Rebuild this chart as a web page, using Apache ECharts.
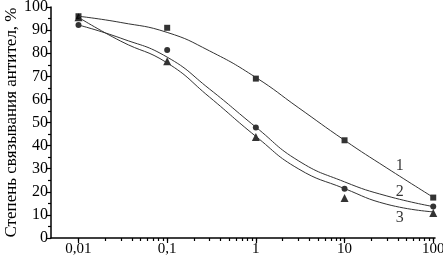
<!DOCTYPE html>
<html>
<head>
<meta charset="utf-8">
<script src="https://cdn.jsdelivr.net/npm/echarts@6/dist/echarts.min.js"></script>
<style>html,body{margin:0;padding:0;background:#fff}#c{width:443px;height:262px}</style>
</head>
<body>
<div id="c"></div>
<script>
// concentrations (x) of measured points
const concentrations = [0.01, 0.1, 1, 10, 100];
// measured points
const series1Values = [96, 91, 69, 42.3, 17.5];
const series2Values = [92.2, 81.4, 47.8, 21.3, 13.6];
const series3Values = [95.6, 76.5, 43.7, 17.3, 10.8];
// fitted curves
const curveX = [0.01, 0.03, 0.1, 0.3, 1, 3, 10, 30, 100];
const curve1 = [96, 93.3, 89, 81, 69.5, 56.5, 42.3, 30.3, 17.6];
const curve2 = [92.2, 86.5, 78.3, 64.5, 48, 33.5, 24.3, 18.2, 13.6];
const curve3 = [95.5, 85.2, 75.8, 61, 44, 30, 21.4, 14.6, 11.3];
// tick labels
const xTickLabels = ['0,01', '0,1', '1', '10', '100'];
const minorMultipliers = [2, 3, 4, 5, 6, 7, 8, 9];
// curve number labels
const curveNames = ['1', '2', '3'];
const curveNameX = [42, 42, 42];
const curveNameY = [31.4, 20.2, 8.6];
const yAxisTitle = 'Степень связывания антител, %';

const lg = v => Math.log10(v);
const majorTicks = concentrations.map(lg);
const allTicks = majorTicks.slice();
concentrations.slice(0, 4).forEach(d => minorMultipliers.forEach(m => allTicks.push(lg(d * m))));

const font = 'Liberation Serif';
const black = '#000';

function pts(xs, ys) { return xs.map((x, i) => [lg(x), ys[i]]); }

const chart = echarts.init(document.getElementById('c'), null, {renderer: 'canvas'});
chart.setOption({
  animation: false,
  backgroundColor: '#fff',
  grid: {left: 51, right: 8, top: 7, bottom: 24, containLabel: false, outerBoundsMode: 'none'},
  xAxis: [
    {
      type: 'value', min: -2.31, max: 2.02, position: 'bottom',
      axisLine: {onZero: false, lineStyle: {color: black, width: 1.5}},
      axisTick: {show: true, customValues: allTicks, length: 3, lineStyle: {color: black, width: 1.2}},
      axisLabel: {show: true, customValues: majorTicks, color: black, fontFamily: font, fontSize: 15, margin: 4,
        formatter: v => xTickLabels[Math.round(v) + 2]},
      splitLine: {show: false}
    },
    {
      type: 'value', min: -2.31, max: 2.02, position: 'bottom',
      axisLine: {show: true, onZero: false, lineStyle: {color: black, width: 1.5, opacity: 0}},
      axisTick: {show: true, customValues: majorTicks, length: 5, lineStyle: {color: black, width: 1.2}},
      axisLabel: {show: true, customValues: majorTicks, formatter: () => ''},
      splitLine: {show: false}
    }
  ],
  yAxis: {
    type: 'value', min: 0, max: 100, interval: 10,
    name: yAxisTitle, nameLocation: 'middle', nameRotate: 90, nameGap: 31, nameMoveOverlap: false,
    nameTextStyle: {color: black, fontFamily: font, fontSize: 17},
    axisLine: {show: true, onZero: false, lineStyle: {color: black, width: 1.5}},
    axisTick: {show: true, length: 5, lineStyle: {color: black, width: 1.2}},
    minorTick: {show: true, splitNumber: 2, length: 3, lineStyle: {color: black, width: 1.2}},
    axisLabel: {color: black, fontFamily: font, fontSize: 16, margin: 3},
    splitLine: {show: false}
  },
  series: [
    {type: 'line', data: pts(curveX, curve1), smooth: 0.5, symbol: 'none', lineStyle: {color: '#333', width: 1}},
    {type: 'line', data: pts(curveX, curve2), smooth: 0.5, symbol: 'none', lineStyle: {color: '#333', width: 1}},
    {type: 'line', data: pts(curveX, curve3), smooth: 0.5, symbol: 'none', lineStyle: {color: '#333', width: 1}},
    {type: 'scatter', data: pts(concentrations, series1Values), symbol: 'rect', symbolSize: 6, itemStyle: {color: black}},
    {type: 'scatter', data: pts(concentrations, series2Values), symbol: 'circle', symbolSize: 6, itemStyle: {color: black}},
    {type: 'scatter', data: pts(concentrations, series3Values), symbol: 'triangle', symbolSize: 8, itemStyle: {color: black}},
    {type: 'scatter', xAxisIndex: 1, symbolSize: 0, silent: true,
      data: curveNames.map((n, i) => ({value: [lg(curveNameX[i]), curveNameY[i]], name: n})),
      label: {show: true, position: 'inside', formatter: p => p.name, color: black, fontFamily: font, fontSize: 16}}
  ]
});
</script>
</body>
</html>
